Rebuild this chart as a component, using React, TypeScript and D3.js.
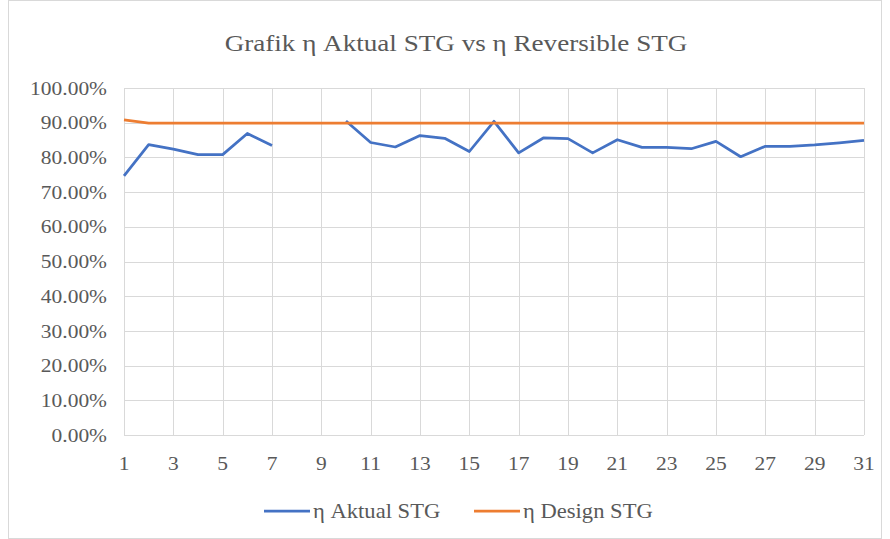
import * as d3 from 'd3';

// days 1..31
const days = d3.range(1, 32);
const aktual: (number | null)[] = [
  74.7, 83.7, 82.4, 80.8, 80.8, 86.9, 83.4, null, null, 90.5,
  84.3, 83.0, 86.3, 85.5, 81.7, 90.4, 81.3, 85.6, 85.4, 81.3,
  85.1, 82.9, 82.9, 82.5, 84.6, 80.2, 83.2, 83.2, 83.6, 84.2,
  84.9,
];
const design: number[] = [
  90.8, 89.9, 89.9, 89.9, 89.9, 89.9, 89.9, 89.9, 89.9, 89.9,
  89.9, 89.9, 89.9, 89.9, 89.9, 89.9, 89.9, 89.9, 89.9, 89.9,
  89.9, 89.9, 89.9, 89.9, 89.9, 89.9, 89.9, 89.9, 89.9, 89.9,
  89.9,
];
const yTicks = [0, 10, 20, 30, 40, 50, 60, 70, 80, 90, 100];
const xTicks = days.filter(d => d % 2 === 1);
const seriesNames = ['η Aktual STG', 'η Design STG'];
const colors = ['#4472C4', '#ED7D31'];

const W = 890;
const H = 539;
const STRETCH = 1.13; // source image is a bit wide, text looks stretched
const textColor = '#595959';
const margin = { top: 88, right: 26, bottom: 104, left: 124 };

const x = d3.scaleLinear().domain([1, 31]).range([margin.left, W - margin.right]);
const y = d3.scaleLinear().domain([0, 100]).range([H - margin.bottom, margin.top]);

const line = d3.line<number | null>()
  .defined(d => d !== null)
  .x((_, i) => x(days[i]))
  .y(d => y(d as number));

function Label({ tx, ty, size, anchor = 'start', dy = '0', children }: any) {
  return (
    <text
      transform={`translate(${tx},${ty}) scale(${STRETCH},1)`}
      dy={dy}
      textAnchor={anchor}
      fill={textColor}
      style={{ fontFamily: 'Liberation Serif', fontSize: size }}
    >
      {children}
    </text>
  );
}

export default function App() {
  const legendX = [264, 474];
  return (
    <svg width={W} height={H} style={{ position: 'absolute', left: 0, top: 0, background: 'white' }}>
      <rect x={8.5} y={0.5} width={W - 17} height={H - 1} fill="white" stroke="#d9d9d9" />

      <Label tx={456} ty={51} size={24} anchor="middle">Grafik η Aktual STG vs η Reversible STG</Label>

      <g stroke="#d9d9d9" strokeWidth={1}>
        {yTicks.map(d => (
          <line key={'h' + d} x1={x(1)} x2={x(31)} y1={Math.round(y(d)) + 0.5} y2={Math.round(y(d)) + 0.5} />
        ))}
        {xTicks.map(d => (
          <line key={'v' + d} x1={Math.round(x(d)) + 0.5} x2={Math.round(x(d)) + 0.5} y1={y(0)} y2={y(100)} />
        ))}
      </g>

      <g>
        {yTicks.map(d => (
          <Label key={d} tx={margin.left - 17} ty={y(d)} size={19} anchor="end" dy="0.35em">
            {d.toFixed(2) + '%'}
          </Label>
        ))}
      </g>
      <g>
        {xTicks.map(d => (
          <Label key={d} tx={x(d)} ty={y(0) + 28} size={19} anchor="middle" dy="0.35em">
            {String(d)}
          </Label>
        ))}
      </g>

      {[aktual, design].map((s, i) => (
        <path
          key={i}
          d={line(s) ?? ''}
          fill="none"
          stroke={colors[i]}
          strokeWidth={2.75}
          strokeLinejoin="round"
        />
      ))}

      <g>
        {seriesNames.map((name, i) => (
          <g key={name}>
            <line x1={legendX[i]} x2={legendX[i] + 46} y1={511} y2={511} stroke={colors[i]} strokeWidth={2.75} />
            <Label tx={legendX[i] + 49} ty={511} size={20} dy="0.35em">{name}</Label>
          </g>
        ))}
      </g>
    </svg>
  );
}
